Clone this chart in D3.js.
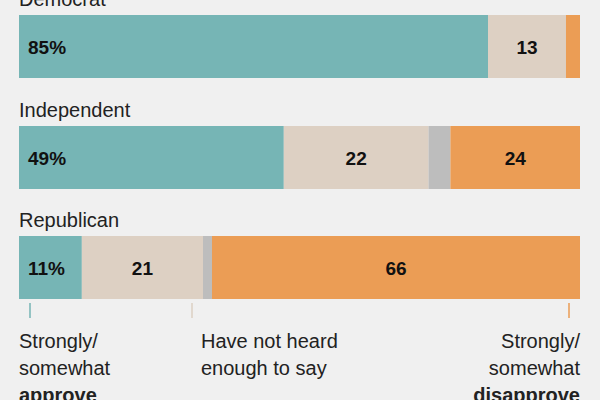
<!DOCTYPE html>
<html><head><meta charset="utf-8">
<script src="https://cdn.jsdelivr.net/npm/d3@7"></script>
<style>body{margin:0;background:#f0f0f0;font-family:"Liberation Sans",Arial,sans-serif}</style>
</head><body><svg id="c" width="600" height="400"></svg>
<script>
const groups = ["Democrat", "Independent", "Republican"];
const keys = ["approve", "notHeard", "other", "disapprove"];
const approve = [83.6, 47.2, 11.2];
const notHeard = [13.9, 25.8, 21.6];
const other = [0, 3.9, 1.6];
const disapprove = [2.5, 23.1, 65.6];
const labels = [["85%", "13", "", ""], ["49%", "22", "", "24"], ["11%", "21", "", "66"]];
const colors = {approve: "#76b5b5", notHeard: "#ddd0c3", other: "#bdbdbd", disapprove: "#eb9d55"};

const svg = d3.select("#c");
const x = d3.scaleLinear().domain([0, 100]).range([19, 580]);
const barTop = [15, 126, 236];
const barH = 63;

const rows = groups.map((g, i) => ({g, approve: approve[i], notHeard: notHeard[i], other: other[i], disapprove: disapprove[i]}));
const stacked = d3.stack().keys(keys)(rows);

stacked.forEach(layer => {
  svg.selectAll(null).data(layer).enter().append("rect")
    .attr("x", d => x(d[0])).attr("width", d => x(d[1]) - x(d[0]))
    .attr("y", (d, i) => barTop[i]).attr("height", barH)
    .attr("fill", colors[layer.key]);
  svg.selectAll(null).data(layer).enter().append("text")
    .attr("x", (d, i) => layer.key === "approve" ? x(0) + 9 : (x(d[0]) + x(d[1])) / 2)
    .attr("y", (d, i) => barTop[i] + barH / 2 + 7)
    .attr("text-anchor", layer.key === "approve" ? "start" : "middle")
    .attr("font-size", 19).attr("font-weight", "bold").attr("fill", "#111")
    .text((d, i) => labels[i][keys.indexOf(layer.key)]);
});

svg.selectAll(".g").data(groups).enter().append("text")
  .attr("x", 19).attr("y", (d, i) => barTop[i] - 9)
  .attr("font-size", 20).attr("fill", "#222").text(d => d);

// ticks under last bar
const tickX = [[30, colors.approve], [192, colors.notHeard], [569, colors.disapprove]];
tickX.forEach(([tx, c]) => svg.append("line").attr("x1", tx).attr("x2", tx)
  .attr("y1", 303).attr("y2", 318).attr("stroke", c).attr("stroke-width", 1.5));

const legend = [
  {x: 19, anchor: "start", lines: [["Strongly/", false], ["somewhat", false], ["approve", true]]},
  {x: 201, anchor: "start", lines: [["Have not heard", false], ["enough to say", false]]},
  {x: 580, anchor: "end", lines: [["Strongly/", false], ["somewhat", false], ["disapprove", true]]}
];
legend.forEach(l => l.lines.forEach(([t, b], j) => svg.append("text")
  .attr("x", l.x).attr("y", 348 + j * 27).attr("text-anchor", l.anchor)
  .attr("font-size", 20).attr("font-weight", b ? "bold" : "normal")
  .attr("fill", "#222").text(t)));
</script></body></html>
